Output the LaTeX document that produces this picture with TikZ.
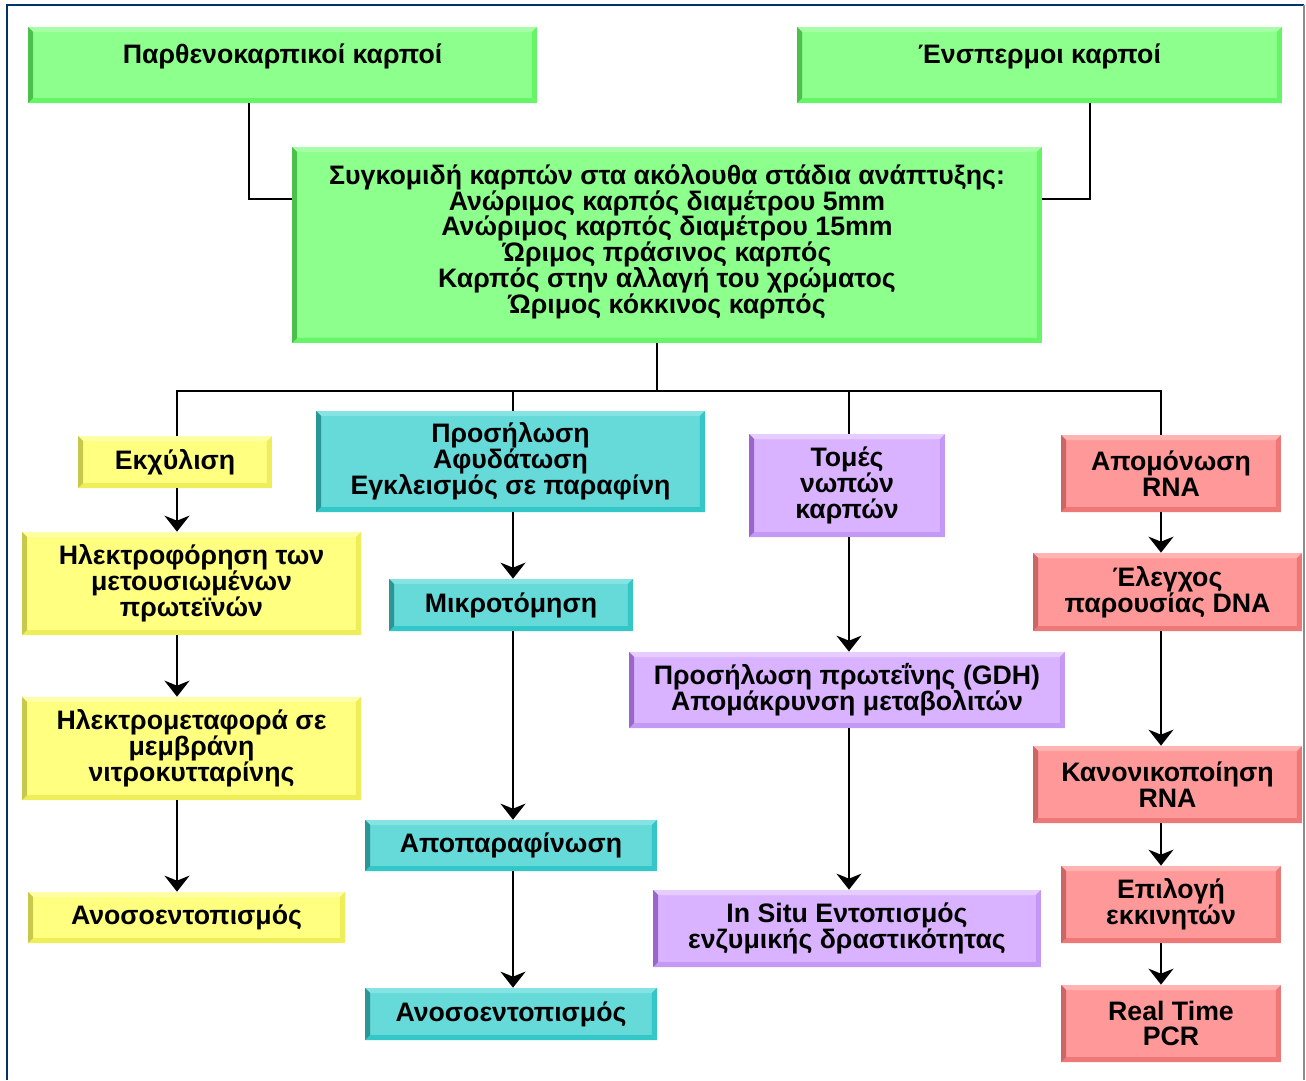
\documentclass[tikz,border=0pt]{standalone}
\usepackage{fontspec}
\setmainfont{Liberation Sans}
\usetikzlibrary{arrows.meta}
\definecolor{grnF}{HTML}{8CFF8C}
\definecolor{grnT}{HTML}{A6FFA6}
\definecolor{grnS}{HTML}{66F566}
\definecolor{grnL}{HTML}{4CBF4C}
\definecolor{ylwF}{HTML}{FFFF80}
\definecolor{ylwT}{HTML}{FFFFA6}
\definecolor{ylwS}{HTML}{EEEE5A}
\definecolor{ylwL}{HTML}{C8C84C}
\definecolor{tealF}{HTML}{66D9D9}
\definecolor{tealT}{HTML}{85E3E3}
\definecolor{tealS}{HTML}{33C7C7}
\definecolor{tealL}{HTML}{2B9696}
\definecolor{purF}{HTML}{D9B3FF}
\definecolor{purT}{HTML}{E6CCFF}
\definecolor{purS}{HTML}{C499F5}
\definecolor{purL}{HTML}{9966CC}
\definecolor{redF}{HTML}{FF9999}
\definecolor{redT}{HTML}{FFB3B3}
\definecolor{redS}{HTML}{EE7777}
\definecolor{redL}{HTML}{CC6666}
\definecolor{frame}{HTML}{003366}
\tikzset{bevel/.style={fill=#1F, path picture={
    \def\bw{0.1cm}
    \coordinate (pSW) at (path picture bounding box.south west);
    \coordinate (pNE) at (path picture bounding box.north east);
    \coordinate (pNW) at (pSW |- pNE);
    \coordinate (pSE) at (pNE |- pSW);
    \fill[#1T] (pNW) -- (pNE) -- ++(-\bw,-\bw) -- ([shift={(\bw,-\bw)}]pNW) -- cycle;
    \fill[#1S] (pNE) -- (pSE) -- ++(-\bw,\bw) -- ([shift={(-\bw,-\bw)}]pNE) -- cycle;
    \fill[#1S] (pSE) -- (pSW) -- ++(\bw,\bw) -- ([shift={(-\bw,\bw)}]pSE) -- cycle;
    \fill[#1L] (pSW) -- (pNW) -- ++(\bw,-\bw) -- ([shift={(\bw,\bw)}]pSW) -- cycle;
  }}}
\tikzstyle{stage} = [rectangle, align=center, inner sep=0pt,%
	font=\bfseries\fontsize{15.2}{14.7}\selectfont]
\tikzstyle{link} = [line width=1.3pt, black]
\tikzstyle{flow} = [link, -{Stealth[length=0.32cm,width=0.5cm,inset=0.1cm]}]

\begin{document}
\begin{tikzpicture}[x=0.02cm,y=-0.02cm]
    \useasboundingbox (0,0) rectangle (1306,1080);
    \draw[frame, line width=0.05cm] (7,1080) -- (7,5) -- (1304,5);
    \draw[black!45, line width=0.6pt] (1304,5) -- (1304,1080);

    % top row
    \node[stage,bevel=grn,minimum width=10.18cm,minimum height=1.52cm,text depth=13pt] (parth) at (282.5,65) {Παρθενοκαρπικοί καρποί};
    \node[stage,bevel=grn,minimum width=9.70cm,minimum height=1.52cm,text depth=13pt] (enspermoi) at (1039.5,65) {Ένσπερμοι καρποί};
    \node[stage,bevel=grn,minimum width=15cm,minimum height=3.92cm,text depth=7pt] (harvest) at (667,245)
      {Συγκομιδή καρπών στα ακόλουθα στάδια ανάπτυξης:\\Ανώριμος καρπός διαμέτρου 5mm\\Ανώριμος καρπός διαμέτρου 15mm\\Ώριμος πράσινος καρπός\\Καρπός στην αλλαγή του χρώματος\\Ώριμος κόκκινος καρπός};

    % western blot
    \node[stage,bevel=ylw,minimum width=3.88cm,minimum height=1.04cm] (ekx) at (175,462) {Εκχύλιση};
    \node[stage,bevel=ylw,minimum width=6.78cm,minimum height=2.06cm] (phoresis) at (191.5,583.5) {Ηλεκτροφόρηση των\\μετουσιωμένων\\πρωτεϊνών};
    \node[stage,bevel=ylw,minimum width=6.78cm,minimum height=2.06cm] (transfer) at (191.5,748.5) {Ηλεκτρομεταφορά σε\\μεμβράνη\\νιτροκυτταρίνης};
    \node[stage,bevel=ylw,minimum width=6.34cm,minimum height=1.02cm] (immunoA) at (186.5,917.5) {Ανοσοεντοπισμός};

    % histology
    \node[stage,bevel=teal,minimum width=7.78cm,minimum height=2.02cm] (fix) at (510.5,461.5) {Προσήλωση\\Αφυδάτωση\\Εγκλεισμός σε παραφίνη};
    \node[stage,bevel=teal,minimum width=4.88cm,minimum height=1.04cm] (micro) at (511,605) {Μικροτόμηση};
    \node[stage,bevel=teal,minimum width=5.84cm,minimum height=1.02cm] (dewax) at (511,845.5) {Αποπαραφίνωση};
    \node[stage,bevel=teal,minimum width=5.84cm,minimum height=1.04cm] (immunoB) at (511,1014) {Ανοσοεντοπισμός};

    % enzyme activity
    \node[stage,bevel=pur,minimum width=3.92cm,minimum height=2.06cm] (cuts) at (847,485.5) {Τομές\\νωπών\\καρπών};
    \node[stage,bevel=pur,minimum width=8.72cm,minimum height=1.52cm] (gdh) at (847,690) {Προσήλωση πρωτεΐνης (GDH)\\Απομάκρυνση μεταβολιτών};
    \node[stage,bevel=pur,minimum width=7.76cm,minimum height=1.54cm] (insitu) at (847,928.5) {In Situ Εντοπισμός\\ενζυμικής δραστικότητας};

    % real time pcr
    \node[stage,bevel=red,minimum width=4.40cm,minimum height=1.54cm] (rna) at (1171,473.5) {Απομόνωση\\RNA};
    \node[stage,bevel=red,minimum width=5.38cm,minimum height=1.56cm] (dna) at (1167.5,592) {Έλεγχος\\παρουσίας DNA};
    \node[stage,bevel=red,minimum width=5.38cm,minimum height=1.54cm] (norm) at (1167.5,784.5) {Κανονικοποίηση\\RNA};
    \node[stage,bevel=red,minimum width=4.40cm,minimum height=1.54cm] (primers) at (1171,904.5) {Επιλογή\\εκκινητών};
    \node[stage,bevel=red,minimum width=4.40cm,minimum height=1.54cm] (pcr) at (1171,1023.5) {Real Time\\PCR};

    \coordinate (jl) at (249,199);
    \coordinate (jr) at (1090,199);
    \coordinate (bus) at (657,391);
    \coordinate (colA) at (177,391);
    \coordinate (colB) at (513,391);
    \coordinate (colC) at (849,391);
    \coordinate (colD) at (1161,391);

    \draw[link] (parth.south -| jl) |- (harvest.west |- jl);
    \draw[link] (enspermoi.south -| jr) |- (harvest.east |- jr);
    \draw[link] (harvest.south -| bus) -- (bus);
    \draw[link] (ekx.north -| colA) -- (colA) -- (colD) -- (rna.north -| colD);
    \draw[link] (colB) -- (fix.north -| colB);
    \draw[link] (colC) -- (cuts.north -| colC);

    \draw[flow] (ekx.south -| colA) -- (phoresis.north -| colA);
    \draw[flow] (phoresis.south -| colA) -- (transfer.north -| colA);
    \draw[flow] (transfer.south -| colA) -- (immunoA.north -| colA);

    \draw[flow] (fix.south -| colB) -- (micro.north -| colB);
    \draw[flow] (micro.south -| colB) -- (dewax.north -| colB);
    \draw[flow] (dewax.south -| colB) -- (immunoB.north -| colB);

    \draw[flow] (cuts.south -| colC) -- (gdh.north -| colC);
    \draw[flow] (gdh.south -| colC) -- (insitu.north -| colC);

    \draw[flow] (rna.south -| colD) -- (dna.north -| colD);
    \draw[flow] (dna.south -| colD) -- (norm.north -| colD);
    \draw[flow] (norm.south -| colD) -- (primers.north -| colD);
    \draw[flow] (primers.south -| colD) -- (pcr.north -| colD);
\end{tikzpicture}
\end{document}
